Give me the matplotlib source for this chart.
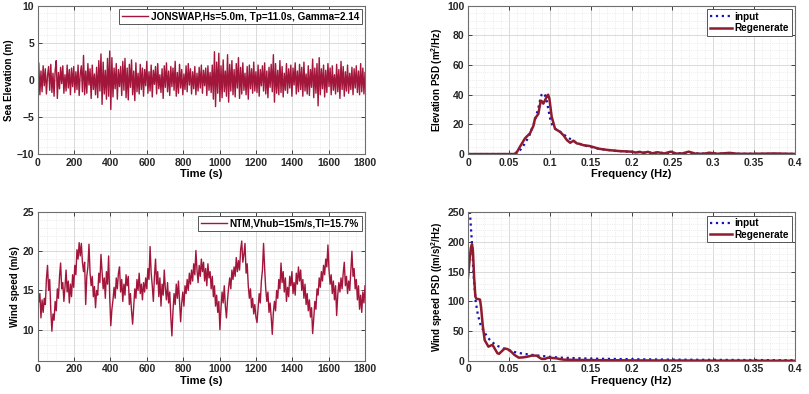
import numpy as np
import matplotlib
matplotlib.use('Agg')
import matplotlib.pyplot as plt
from matplotlib.ticker import MultipleLocator

DT = 6

# sea surface elevation (m), one value every DT seconds from 0 to 1800 s
sea_elevation = [
    0.4, 2.3, -2.0, 1.2, -1.6, 1.9, -0.8, 1.5, -1.9, 0.6, 1.8, -1.4, 2.1, -1.7, 0.9, -2.2, 1.3, 2.6, -2.5, 1.0,
    -1.2, 1.7, -0.5, 1.9, -1.8, 0.7, -1.5, 2.0, -1.1, 1.4, -2.0, 1.6, -0.9, 1.8, -1.7, 1.1, -1.3, 2.0, -2.1, 0.8,
    1.9, -1.6, 3.3, -2.0, 1.2, -1.8, 2.2, -0.7, 1.5, -2.5, 2.0, -1.3, 0.8, -2.0, 1.7, -2.4, 2.6, -1.5, 3.5, -3.3,
    2.4, -1.9, 1.3, -2.6, 2.9, -2.2, 3.9, -4.0, 3.0, -2.3, 1.6, -1.2, 2.2, -2.6, 1.4, -0.9, 1.8, -2.1, 2.5, -1.4,
    2.9, -2.4, 1.6, -2.7, 2.1, -1.0, 2.7, -2.0, 1.2, -2.8, 2.3, -1.6, 0.9, -1.9, 2.1, -1.3, 1.6, -2.2, 1.4, -0.8,
    2.5, -1.8, 1.1, -1.5, 2.0, -2.3, 1.3, -0.6, 1.8, -1.9, 2.2, -1.2, 0.7, -1.7, 1.5, -2.5, 1.9, -1.0, 2.3, -1.6,
    1.2, -2.1, 1.8, -0.9, 1.6, -1.4, 2.5, -2.2, 1.0, -1.8, 2.1, -1.1, 1.4, -2.0, 0.8, -1.3, 1.9, -1.6, 2.2, -0.7,
    1.5, -1.9, 1.1, -1.2, 1.8, -2.0, 0.9, -1.5, 1.7, -1.1, 2.0, -1.8, 1.3, -0.8, 1.6, -2.1, 1.9, -1.4, 1.0, -1.7,
    2.0, -2.6, 3.8, -3.6, 2.4, -1.8, 3.6, -2.9, 1.9, -2.4, 2.7, -1.6, 1.2, -2.2, 3.4, -3.0, 2.1, -1.5, 2.6, -2.0,
    1.4, -2.3, 2.2, -1.1, 3.0, -2.5, 1.7, -1.9, 2.3, -1.4, 0.9, -2.0, 1.8, -2.6, 2.0, -1.2, 1.5, -1.8, 2.4, -1.5,
    1.1, -1.7, 2.0, -2.2, 1.4, -0.8, 1.9, -1.5, 2.3, -1.9, 1.2, -2.4, 1.7, -1.0, 2.1, -1.6, 3.4, -3.0, 2.2, -1.8,
    1.3, -2.0, 2.6, -1.7, 1.8, -2.3, 0.9, -1.4, 2.2, -1.8, 1.5, -1.1, 2.0, -2.2, 1.6, -0.7, 2.3, -1.9, 1.2, -1.6,
    2.1, -1.3, 1.7, -2.2, 2.4, -1.5, 0.8, -1.9, 1.9, -2.1, 1.4, -1.0, 2.8, -2.4, 1.6, -1.8, 2.2, -3.5, 3.0, -2.0,
    1.5, -1.2, 2.0, -2.3, 1.3, -1.7, 2.2, -0.9, 1.6, -2.0, 1.9, -1.4, 0.7, -1.9, 2.1, -1.6, 1.4, -2.5, 2.5, -1.3,
    1.8, -2.2, 1.1, -1.5, 2.0, -1.8, 0.9, -1.3, 1.7, -2.0, 1.5, -1.1, 1.9, -1.7, 1.2, -2.0, 2.2, -1.6, 1.6, -1.9,
    1.0,
]

# hub height wind speed (m/s), one value every DT seconds from 0 to 1800 s
wind_speed = [
    16.2, 13.5, 14.6, 11.5, 13.8, 12.2, 14.0, 13.2, 16.5, 18.2, 15.0, 16.4, 12.5, 9.8, 12.0, 11.2, 13.6, 12.4, 15.2, 14.0,
    16.8, 18.5, 15.2, 16.0, 13.6, 15.4, 17.6, 14.8, 16.2, 13.4, 15.8, 14.2, 17.0, 15.4, 18.2, 17.0, 20.2, 19.0, 21.1, 19.4,
    21.0, 18.6, 17.4, 18.6, 13.2, 16.8, 18.0, 20.9, 17.2, 15.6, 16.8, 14.2, 15.5, 12.8, 15.0, 14.4, 17.2, 16.0, 19.6, 17.5,
    15.2, 16.6, 14.0, 17.4, 15.8, 19.4, 14.2, 10.5, 12.6, 13.8, 15.4, 14.0, 16.6, 15.2, 17.2, 18.0, 14.8, 16.4, 13.6, 15.8,
    14.4, 17.0, 15.6, 16.8, 13.2, 14.6, 12.4, 10.7, 13.0, 15.2, 14.0, 16.4, 15.0, 17.2, 14.6, 15.8, 13.8, 16.0, 14.8, 16.6,
    15.2, 17.8, 16.4, 20.6, 17.2, 15.6, 13.6, 16.8, 19.0, 15.8, 17.4, 14.2, 16.6, 13.0, 15.8, 14.4, 17.6, 15.2, 13.8, 16.0,
    13.4, 14.8, 11.6, 9.2, 12.4, 14.6, 13.2, 15.8, 14.0, 16.2, 13.6, 11.0, 13.4, 14.8, 13.0, 15.6, 14.6, 16.4, 15.0, 17.2,
    15.8, 17.6, 16.2, 18.4, 17.0, 20.1, 17.6, 16.0, 18.2, 16.8, 19.0, 17.4, 18.6, 16.2, 17.8, 15.6, 18.4, 16.6, 17.4, 15.2,
    16.8, 14.2, 15.6, 13.0, 14.4, 12.2, 13.6, 10.0, 12.8, 14.8, 13.4, 15.6, 13.0, 11.5, 13.8, 15.4, 16.6, 15.2, 17.6, 16.4,
    18.0, 16.8, 19.2, 17.4, 18.8, 17.6, 20.2, 21.3, 18.6, 19.6, 21.0, 17.2, 18.4, 15.6, 14.0, 15.2, 12.8, 14.0, 12.0, 13.2,
    11.6, 10.9, 12.8, 14.6, 13.4, 16.2, 17.6, 21.0, 17.8, 15.2, 13.6, 14.8, 12.2, 13.4, 11.6, 9.4, 12.2, 13.6, 12.4, 15.0,
    14.0, 16.4, 15.2, 18.5, 16.0, 17.4, 14.8, 16.6, 13.6, 15.4, 14.2, 16.8, 15.6, 17.4, 14.6, 16.0, 14.4, 17.2, 15.8, 18.0,
    16.2, 17.6, 15.0, 16.4, 14.0, 15.8, 13.2, 14.6, 12.4, 13.8, 11.6, 12.8, 9.5, 11.4, 13.6, 12.6, 15.2, 14.4, 16.6, 15.4,
    17.4, 16.2, 18.2, 17.0, 19.0, 18.0, 20.8, 17.6, 15.8, 17.0, 14.6, 16.2, 13.8, 15.6, 11.8, 14.4, 16.0, 14.8, 16.6, 15.2,
    17.2, 18.6, 15.6, 16.8, 14.6, 16.2, 15.0, 17.6, 20.0, 16.8, 17.8, 15.2, 16.4, 13.8, 15.6, 12.6, 14.4, 12.2, 14.8, 13.4,
    15.6,
]

# elevation spectrum (m^2/Hz)
elev_freq_input = [0, 0.055, 0.06, 0.065, 0.07, 0.075, 0.078, 0.081, 0.084, 0.086, 0.088, 0.09, 0.091,
                   0.092, 0.094, 0.096, 0.097, 0.1, 0.102, 0.104, 0.108, 0.1126, 0.117, 0.121, 0.125,
                   0.129, 0.133, 0.137, 0.145, 0.15, 0.16, 0.17, 0.18, 0.2, 0.22, 0.25, 0.3, 0.35, 0.4]
elev_psd_input = [0, 0, 0.5, 3.5, 7.5, 12.5, 17, 21, 27, 31, 36, 40, 41,
                  40.8, 39.8, 36.5, 34, 25, 21, 18.4, 16.5, 15, 13.2, 11.7, 10.2,
                  8.8, 7.6, 6.7, 5.4, 4.7, 3.6, 2.8, 2.2, 1.5, 1.0, 0.6, 0.3, 0.15, 0.1]
elev_freq_regen = [0, 0.056, 0.0575, 0.06, 0.0636, 0.0697, 0.0758, 0.08, 0.082, 0.086, 0.088, 0.089,
                   0.0905, 0.0921, 0.094, 0.097, 0.098, 0.0995, 0.1024, 0.1065, 0.1126, 0.117, 0.121,
                   0.125, 0.129, 0.133, 0.137, 0.141, 0.149, 0.16, 0.17, 0.185, 0.2, 0.205, 0.21, 0.215,
                   0.22, 0.225, 0.232, 0.24, 0.248, 0.255, 0.262, 0.27, 0.278, 0.288, 0.295, 0.305,
                   0.32, 0.33, 0.35, 0.375, 0.4]
elev_psd_regen = [0, 0, 0.3, 1.5, 5, 10.6, 14, 19, 24, 27, 33, 36,
                  35.5, 34, 36, 39.5, 40, 37.5, 25, 17, 15, 12.5, 9.4,
                  7.6, 9, 7.2, 6.8, 6, 5.4, 3.6, 2.8, 2.0, 1.6, 1.0, 1.5, 0.7,
                  1.5, 0.5, 1.2, 0.4, 1.6, 0.3, 0.4, 1.6, 0.3, 0.2, 0.9, 0.2,
                  0.8, 0.2, 0.2, 0.4, 0.1]

# wind speed spectrum ((m/s)^2/Hz)
wind_freq_input = [0.002, 0.0024, 0.0035, 0.005, 0.0065, 0.0094, 0.012, 0.0155, 0.0196, 0.025, 0.029,
                   0.035, 0.043, 0.05, 0.057, 0.068, 0.08, 0.1, 0.113, 0.15, 0.2, 0.25, 0.3, 0.35, 0.4]
wind_psd_input = [300, 250, 225, 195, 150, 100, 78, 60, 49, 38, 32,
                  26, 21, 18, 15, 12, 10, 7, 5.6, 4, 3, 2.3, 1.9, 1.6, 1.3]
wind_freq_regen = [0, 0.002, 0.0035, 0.0049, 0.006, 0.0075, 0.009, 0.0105, 0.0125, 0.0147, 0.016, 0.018,
                   0.0204, 0.025, 0.028, 0.030, 0.033, 0.036, 0.038, 0.041, 0.045, 0.048, 0.051, 0.054,
                   0.057, 0.062, 0.067, 0.072, 0.078, 0.084, 0.087, 0.09, 0.094, 0.098, 0.103, 0.108,
                   0.113, 0.117, 0.125, 0.133, 0.15, 0.2, 0.25, 0.3, 0.35, 0.4]
wind_psd_regen = [141, 170, 190, 196, 185, 140, 108, 104, 104, 103, 90, 60,
                  35, 24, 26, 27, 20, 13, 12, 16, 21, 20, 18, 14,
                  10, 5.6, 6, 7, 9, 9, 6, 3.5, 3.5, 5.6, 5, 4.5,
                  3, 2.2, 2, 1.7, 1.5, 1.0, 0.8, 0.6, 0.5, 0.4]

SERIES_COLOR = '#A3163C'
REGEN_COLOR = '#8E1B2E'
INPUT_COLOR = '#1414B4'
AXIS_GREY = '#262626'


def style_axes(ax, xmajor, xminor, ymajor, yminor):
    """
    Give an axes the MATLAB look: box, inward ticks on all sides,
    light major grid and dotted minor grid.
    """
    ax.xaxis.set_major_locator(MultipleLocator(xmajor))
    ax.xaxis.set_minor_locator(MultipleLocator(xminor))
    ax.yaxis.set_major_locator(MultipleLocator(ymajor))
    ax.yaxis.set_minor_locator(MultipleLocator(yminor))
    ax.tick_params(which='both', direction='in', top=True, right=True,
                   labelsize=7.5, colors=AXIS_GREY, width=0.6, pad=2.5)
    ax.tick_params(which='major', length=3)
    ax.tick_params(which='minor', length=0)
    for label in ax.get_xticklabels() + ax.get_yticklabels():
        label.set_fontweight('bold')
    for spine in ax.spines.values():
        spine.set_color('#6e6e6e')
        spine.set_linewidth(0.8)
    ax.grid(True, which='major', color='#d4d4d4', linewidth=0.6)
    ax.grid(True, which='minor', color='#e0e0e0', linewidth=0.5, linestyle=':')
    ax.set_axisbelow(True)


def legend_box(ax, **kwargs):
    """
    Draw a square white legend with a grey edge in the upper right corner.
    """
    leg = ax.legend(loc='upper right', fancybox=False, framealpha=1,
                    prop={'weight': 'bold', 'size': 7.2}, borderpad=0.25,
                    handletextpad=0.3, borderaxespad=0.35, labelspacing=0.15, **kwargs)
    leg.get_frame().set_edgecolor('#555555')
    leg.get_frame().set_linewidth(0.7)
    return leg


def plot_series(ax, values, label, ylim, ymajor, ylabel):
    time = np.arange(len(values)) * DT
    ax.plot(time, values, color=SERIES_COLOR, linewidth=1.0, label=label)
    ax.set_xlim(0, 1800)
    ax.set_ylim(*ylim)
    ax.set_xlabel('Time (s)', fontsize=8, fontweight='bold', labelpad=1)
    ax.set_ylabel(ylabel, fontsize=7, fontweight='bold', labelpad=2)
    style_axes(ax, 200, 50, ymajor, 1)
    legend_box(ax, handlelength=2.6)


def plot_psd(ax, f_in, p_in, f_re, p_re, ylim, ymajor, yminor, ylabel):
    ax.plot(f_in, p_in, color=INPUT_COLOR, linestyle=':', linewidth=1.6, label='input')
    ax.plot(f_re, p_re, color=REGEN_COLOR, linewidth=1.8, label='Regenerate')
    ax.set_xlim(0, 0.4)
    ax.set_ylim(*ylim)
    ax.set_xlabel('Frequency (Hz)', fontsize=8, fontweight='bold', labelpad=1)
    ax.set_ylabel(ylabel, fontsize=7, fontweight='bold', labelpad=2)
    style_axes(ax, 0.05, 0.01, ymajor, yminor)
    ax.xaxis.set_major_formatter(plt.FuncFormatter(lambda v, p: ('%g' % round(v, 3))))
    for label in ax.get_xticklabels():
        label.set_fontweight('bold')
    legend_box(ax, handlelength=2.2)


def main():
    plt.rcParams['font.family'] = ['Liberation Sans', 'DejaVu Sans']
    plt.rcParams['mathtext.fontset'] = 'custom'
    plt.rcParams['mathtext.rm'] = 'Liberation Sans:bold'
    plt.rcParams['mathtext.bf'] = 'Liberation Sans:bold'
    plt.rcParams['mathtext.default'] = 'bf'

    fig = plt.figure(figsize=(8.09, 3.94), dpi=100)
    ax1 = fig.add_axes([0.0466, 0.609, 0.4046, 0.3764])
    ax2 = fig.add_axes([0.5785, 0.609, 0.4042, 0.3764])
    ax3 = fig.add_axes([0.0466, 0.0838, 0.4046, 0.378])
    ax4 = fig.add_axes([0.5785, 0.0838, 0.4042, 0.378])

    plot_series(ax1, sea_elevation, 'JONSWAP,Hs=5.0m, Tp=11.0s, Gamma=2.14',
                (-10, 10), 5, 'Sea Elevation (m)')
    plot_psd(ax2, elev_freq_input, elev_psd_input, elev_freq_regen, elev_psd_regen,
             (0, 100), 20, 5, r'Elevation PSD (m$^2$/Hz)')
    plot_series(ax3, wind_speed, 'NTM,Vhub=15m/s,TI=15.7%',
                (6, 25), 5, 'Wind speed (m/s)')
    plot_psd(ax4, wind_freq_input, wind_psd_input, wind_freq_regen, wind_psd_regen,
             (0, 250), 50, 10, r'Wind speed PSD ((m/s)$^2$/Hz)')

    fig.savefig('out.png', dpi=100)


if __name__ == '__main__':
    main()
